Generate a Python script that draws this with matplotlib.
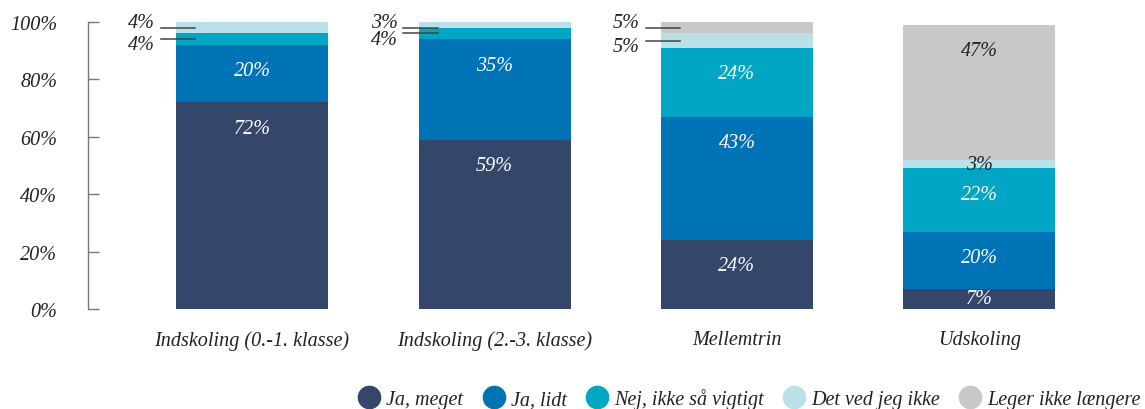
import matplotlib.pyplot as plt
import numpy as np
from matplotlib.lines import Line2D

plt.rcParams["font.family"] = ["Liberation Serif", "DejaVu Serif"]
plt.rcParams["font.style"] = "italic"

groups = [
    "Indskoling (0.-1. klasse)",
    "Indskoling (2.-3. klasse)",
    "Mellemtrin",
    "Udskoling",
]
answers = [
    "Ja, meget",
    "Ja, lidt",
    "Nej, ikke så vigtigt",
    "Det ved jeg ikke",
    "Leger ikke længere",
]
ja_meget = [72, 59, 24, 7]
ja_lidt = [20, 35, 43, 20]
nej_ikke_vigtigt = [4, 4, 24, 22]
ved_ikke = [4, 3, 5, 3]
leger_ikke = [0, 0, 5, 47]
y_ticks = [0, 20, 40, 60, 80, 100]

colors = ["#34466a", "#0072b6", "#00a6c4", "#bae1e8", "#c8c8c6"]
label_colors = ["white", "white", "white", "#222222", "#222222"]

series = [ja_meget, ja_lidt, nej_ikke_vigtigt, ved_ikke, leger_ikke]
x = np.arange(len(groups))
width = 0.627
fs = 14.5

fig = plt.figure(figsize=(11.45, 4.10), dpi=100)
ax = fig.add_axes([88 / 1145, 100 / 410, (1120 - 88) / 1145, 287 / 410])

bottom = np.zeros(len(groups))
for vals, color, tcolor in zip(series, colors, label_colors):
    vals = np.array(vals, dtype=float)
    ax.bar(x, vals, width, bottom=bottom, color=color, linewidth=0)
    for i, (v, b) in enumerate(zip(vals, bottom)):
        if v == 0:
            continue
        top = b + v
        # thin segments at the top of a bar are labelled outside, see below
        if v <= 5 and top >= 90:
            continue
        y = top - min(v / 2, 9)
        ax.text(x[i], y, f"{int(v)}%", ha="center", va="center",
                color=tcolor, fontsize=fs)
    bottom += vals

# outside labels with leader lines for the thin top segments
for i in range(len(groups)):
    base = 0.0
    thin = []
    for vals in series:
        v = vals[i]
        if v > 0 and v <= 5 and base + v >= 90:
            thin.append((base + v / 2, v))
        base += v
    thin = sorted(thin, key=lambda t: -t[0])
    for k, (yc, v) in enumerate(thin):
        yc = min(yc, 98)
        ax.plot([x[i] - 0.376, x[i] - 0.235], [yc, yc], color="#444444",
                lw=1.1, clip_on=False)
        offset = 4 if k == 0 else -4
        ax.annotate(f"{int(v)}%", (x[i] - 0.40, yc), xytext=(0, offset),
                    textcoords="offset points", ha="right", va="center",
                    color="#222222", fontsize=fs, annotation_clip=False)

ax.set_xlim(-0.677, 3.58)
ax.set_ylim(0, 100)
ax.set_yticks(y_ticks)
ax.set_yticklabels([f"{t}%" for t in y_ticks])
ax.set_xticks(x)
ax.set_xticklabels(groups)
ax.tick_params(axis="y", direction="in", length=8, width=1, color="#777777",
               pad=22, labelsize=fs, labelcolor="#222222")
ax.tick_params(axis="x", length=0, pad=15, labelsize=fs, labelcolor="#222222")
for side in ["top", "right", "bottom"]:
    ax.spines[side].set_visible(False)
ax.spines["left"].set_color("#777777")
ax.spines["left"].set_linewidth(1)

handles = [
    Line2D([], [], marker="o", linestyle="none", markersize=16,
           markerfacecolor=c, markeredgecolor=c)
    for c in colors
]
fig.legend(handles, answers, loc="center right", bbox_to_anchor=(1.012, 10 / 410),
           ncol=5, frameon=False, fontsize=fs, handlelength=1.0,
           handletextpad=0.35, columnspacing=1.0, labelcolor="#222222")

fig.savefig("out.png", dpi=100)
